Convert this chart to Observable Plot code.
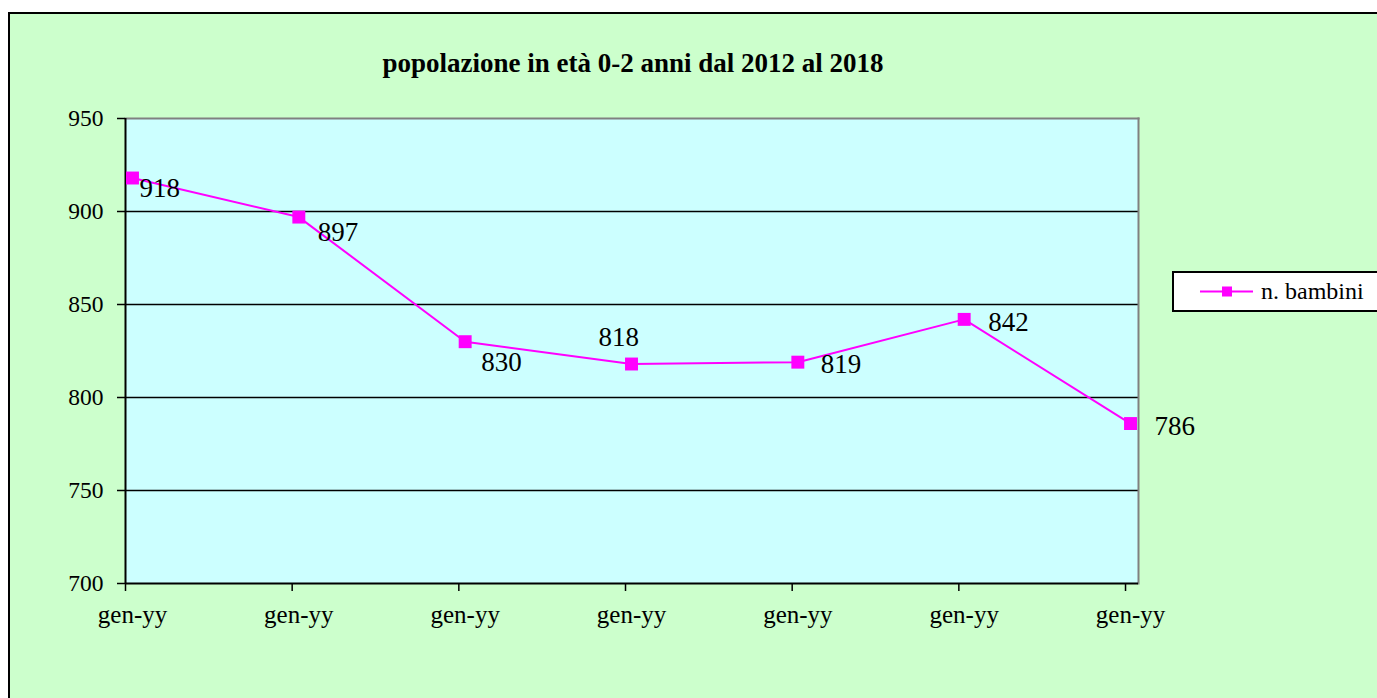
<!DOCTYPE html>
<html>
<head>
<meta charset="utf-8">
<script src="https://cdn.jsdelivr.net/npm/d3@7"></script>
<script src="https://cdn.jsdelivr.net/npm/@observablehq/plot@0.6"></script>
<style>
  html, body { margin: 0; padding: 0; background: #ffffff; overflow: hidden; width: 1377px; height: 698px; }
  #page { position: relative; width: 1377px; height: 698px; overflow: hidden; font-family: "Liberation Serif", serif; }
  #frame { position: absolute; left: 8px; top: 12px; width: 1500px; height: 800px; border-left: 2px solid #000; border-top: 2px solid #000; background: #CCFFCC; box-sizing: border-box; }
  #title { position: absolute; left: 0; width: 1266px; top: 48px; text-align: center; font-family: "Liberation Serif", serif; font-weight: bold; font-size: 27px; color: #000; white-space: nowrap; }
  #chart { position: absolute; left: 0; top: 0; }
  #legend { position: absolute; left: 1172px; top: 271px; width: 240px; height: 41px; border: 2px solid #000; background: #fff; box-sizing: border-box; }
  #legend svg { position: absolute; left: 0; top: 0; }
  #legend span { position: absolute; left: 87px; top: 5px; font-family: "Liberation Serif", serif; font-size: 24px; color: #000; white-space: nowrap; }
</style>
</head>
<body>
<div id="page">
  <div id="frame"></div>
  <div id="title"></div>
  <div id="chart"></div>
  <div id="legend"></div>
</div>
<script>
// ---- data ----
const chartTitle = "popolazione in età 0-2 anni dal 2012 al 2018";
const seriesName = "n. bambini";
const categories = ["gen-yy", "gen-yy", "gen-yy", "gen-yy", "gen-yy", "gen-yy", "gen-yy"];
const values = [918, 897, 830, 818, 819, 842, 786];
const yTicks = [700, 750, 800, 850, 900, 950];
const gridValues = [750, 800, 850, 900];

// ---- layout of data labels (pixel offsets from each marker) ----
const labelDx = [7, 19, 16, -33, 23, 24, 24];
const labelDy = [10, 15, 21, -27, 2, 3, 3];

const rows = values.map((v, i) => ({i, v, cat: categories[i]}));
const xDomain = [-0.042, 6.048];
const tickPositions = categories.map((c, i) => i - 0.042 + 0.002 * i);
const magenta = "#FF00FF";

document.getElementById("title").textContent = chartTitle;

const labelMarks = rows.map((d, k) => Plot.text([d], {
  x: "i", y: "v", text: r => String(r.v),
  dx: labelDx[k], dy: labelDy[k], textAnchor: "start", lineAnchor: "middle",
  fontSize: 27, fill: "#000"
}));

const chart = Plot.plot({
  width: 1377,
  height: 698,
  marginLeft: 125,
  marginRight: 239,
  marginTop: 118,
  marginBottom: 115,
  style: {fontFamily: "Liberation Serif", fontSize: "23px", background: "transparent", color: "#000", overflow: "visible"},
  x: {domain: xDomain},
  y: {domain: [700, 950]},
  marks: [
    Plot.frame({fill: "#CCFFFF", stroke: null}),
    Plot.ruleY(gridValues, {stroke: "#000", strokeWidth: 1.5}),
    Plot.frame({anchor: "top", stroke: "#808080", strokeWidth: 2}),
    Plot.frame({anchor: "right", stroke: "#808080", strokeWidth: 2}),
    Plot.ruleX([xDomain[0]], {stroke: "#000", strokeWidth: 2}),
    Plot.ruleY([700], {stroke: "#000", strokeWidth: 2}),
    Plot.axisY({ticks: yTicks, tickSize: 8, tickPadding: 14, strokeWidth: 1.5, fontSize: 23.5, label: null, tickFormat: d => String(d)}),
    Plot.axisX({ticks: tickPositions, tickSize: 8, strokeWidth: 1.5, tickFormat: () => "", label: null}),
    Plot.axisX({ticks: rows.map(d => d.i), tickSize: 0, tickPadding: 22, fontSize: 25, tickFormat: i => categories[i], label: null}),
    Plot.line(rows, {x: "i", y: "v", stroke: magenta, strokeWidth: 2}),
    Plot.dot(rows, {x: "i", y: "v", symbol: "square", r: 7.3, fill: magenta, stroke: null}),
    ...labelMarks
  ]
});
document.getElementById("chart").appendChild(chart);

// ---- legend ----
const legend = document.getElementById("legend");
const ls = d3.create("svg").attr("width", 86).attr("height", 37);
ls.append("line").attr("x1", 26).attr("x2", 79).attr("y1", 18.5).attr("y2", 18.5).attr("stroke", magenta).attr("stroke-width", 2);
ls.append("rect").attr("x", 48).attr("y", 13.5).attr("width", 10).attr("height", 10).attr("fill", magenta);
legend.appendChild(ls.node());
const sp = document.createElement("span");
sp.textContent = seriesName;
legend.appendChild(sp);
</script>
</body>
</html>
